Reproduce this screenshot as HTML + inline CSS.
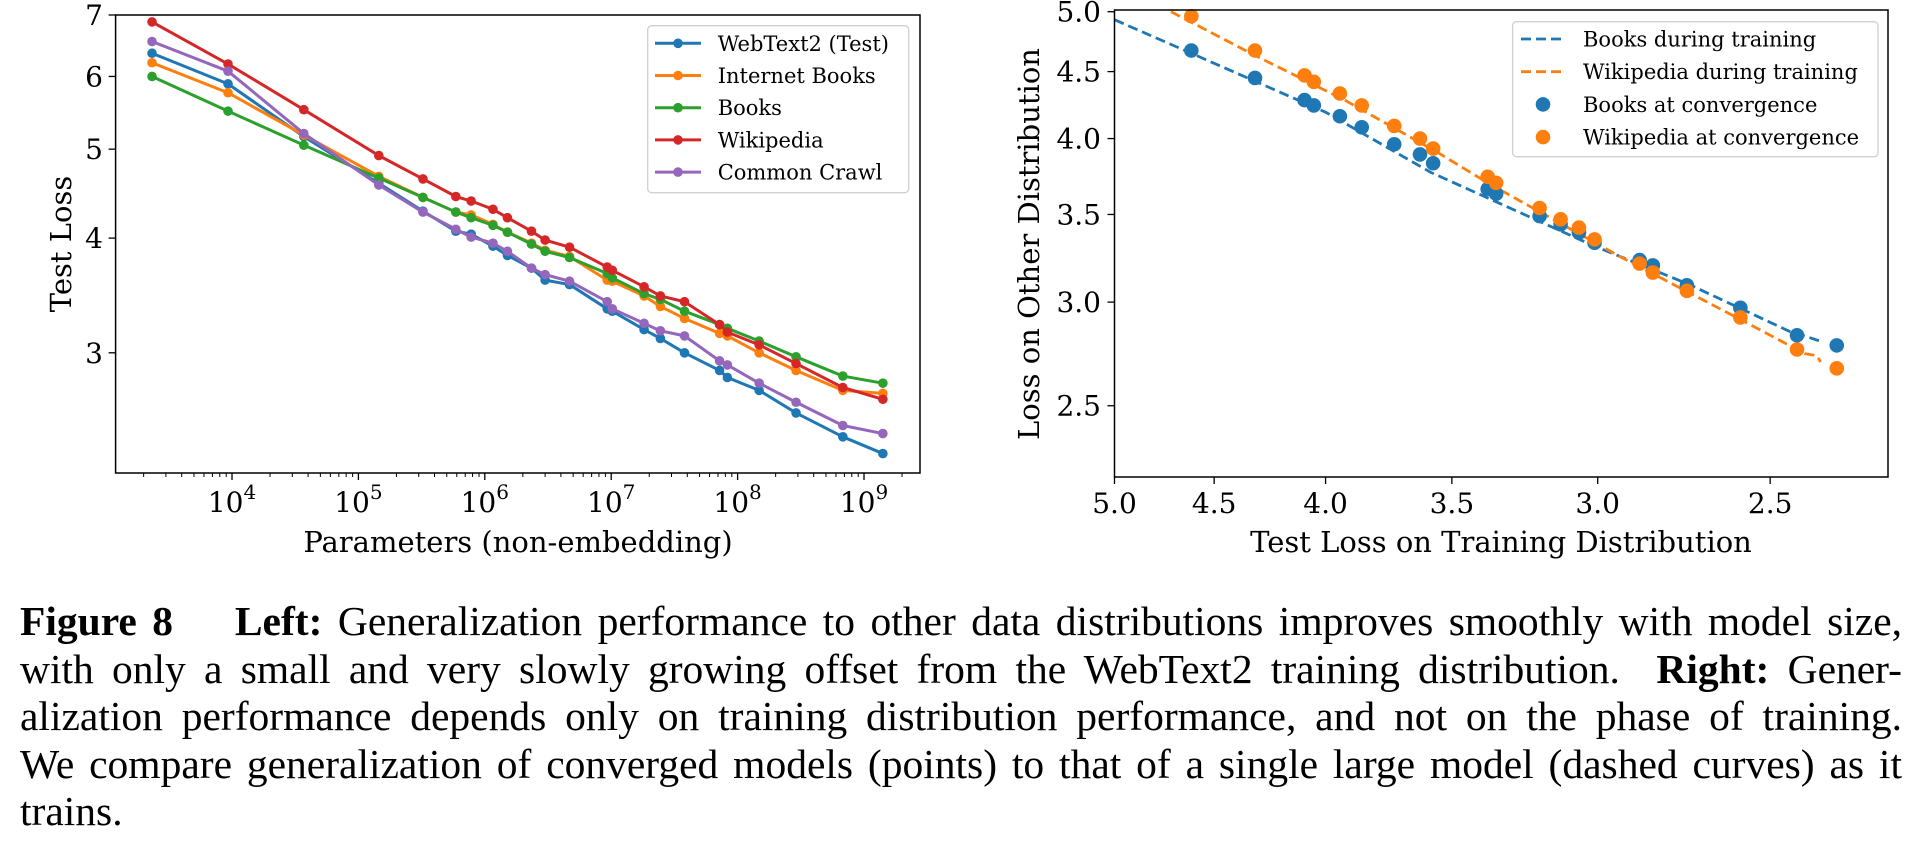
<!DOCTYPE html>
<html><head><meta charset="utf-8"><style>
html,body{margin:0;padding:0;background:#fff;width:1916px;height:844px;overflow:hidden}
svg{position:absolute;left:0;top:0}
.cap{position:absolute;left:20px;width:1882px;font-family:"Liberation Serif",serif;font-size:41.5px;line-height:47.5px;color:#000;white-space:nowrap}
.j{text-align:justify;text-align-last:justify}
</style></head><body>
<svg id="fig" width="1916" height="844" xmlns="http://www.w3.org/2000/svg" font-family="DejaVu Serif, serif"></svg>
<div class="cap" style="top:598px">
<div class="j"><b>Figure 8</b>&nbsp;&nbsp;&nbsp; <b>Left:</b> Generalization performance to other data distributions improves smoothly with model size,</div>
<div class="j">with only a small and very slowly growing offset from the WebText2 training distribution. &nbsp;<b>Right:</b> Gener-</div>
<div class="j">alization performance depends only on training distribution performance, and not on the phase of training.</div>
<div class="j">We compare generalization of converged models (points) to that of a single large model (dashed curves) as it</div>
<div>trains.</div>
</div>
<script>
// ---- Left chart data ----
const params = [2.33e3, 9.3e3, 3.7e4, 1.45e5, 3.24e5, 5.9e5, 7.8e5, 1.16e6, 1.51e6, 2.34e6, 3.0e6, 4.68e6, 9.3e6, 1.02e7, 1.82e7, 2.45e7, 3.8e7, 7.2e7, 8.3e7, 1.48e8, 2.9e8, 6.8e8, 1.41e9];
const webtext = [6.36,5.89,5.16,4.59,4.28,4.07,4.04,3.92,3.83,3.71,3.60,3.56,3.35,3.33,3.18,3.11,3.00,2.87,2.82,2.73,2.58,2.43,2.33];
const internetBooks = [6.21,5.76,5.18,4.67,4.43,4.27,4.24,4.14,4.06,3.95,3.88,3.82,3.60,3.59,3.46,3.37,3.27,3.15,3.13,3.00,2.87,2.73,2.71];
const books = [6.00,5.50,5.05,4.65,4.43,4.27,4.21,4.13,4.06,3.94,3.87,3.81,3.66,3.62,3.48,3.43,3.33,3.22,3.19,3.09,2.97,2.83,2.78];
const wikipedia = [6.88,6.19,5.52,4.92,4.64,4.44,4.39,4.30,4.21,4.07,3.98,3.91,3.72,3.69,3.54,3.46,3.41,3.22,3.16,3.06,2.92,2.75,2.67];
const commonCrawl = [6.55,6.08,5.20,4.57,4.27,4.09,4.01,3.95,3.87,3.71,3.65,3.59,3.41,3.35,3.23,3.17,3.13,2.94,2.91,2.78,2.65,2.50,2.45];
const leftNames = ["WebText2 (Test)","Internet Books","Books","Wikipedia","Common Crawl"];
const leftYTicks = [3,4,5,6,7];
const leftXTickExps = [4,5,6,7,8,9];
// ---- Right chart data ----
const trainLoss = [4.61,4.31,4.09,4.05,3.94,3.85,3.72,3.62,3.57,3.37,3.34,3.19,3.12,3.06,3.01,2.87,2.83,2.73,2.58,2.43,2.33];
const booksConv = [4.67,4.45,4.28,4.24,4.16,4.08,3.96,3.89,3.83,3.66,3.63,3.49,3.44,3.39,3.33,3.23,3.20,3.09,2.97,2.83,2.78];
const wikiConv = [4.96,4.67,4.47,4.42,4.33,4.24,4.09,4.00,3.93,3.74,3.70,3.54,3.47,3.42,3.35,3.21,3.16,3.06,2.92,2.76,2.67];
const booksTrainX = [5.0,4.6,4.0,3.58,3.01,2.73,2.45,2.40,2.37];
const booksTrainY = [4.93,4.64,4.19,3.77,3.31,3.10,2.85,2.82,2.80];
const wikiTrainX = [4.71,4.31,3.92,3.55,3.37,2.93,2.58,2.41,2.38,2.37];
const wikiTrainY = [5.0,4.63,4.28,3.90,3.70,3.25,2.91,2.74,2.73,2.70];
const rightTicks = [5.0,4.5,4.0,3.5,3.0,2.5];

const NS="http://www.w3.org/2000/svg";
const svg=document.getElementById('fig');
function mk(tag,attrs,parent){const e=document.createElementNS(NS,tag);for(const k in attrs)e.setAttribute(k,attrs[k]);(parent||svg).appendChild(e);return e;}
const L=Math.log10;
const C=["#1f77b4","#ff7f0e","#2ca02c","#d62728","#9467bd"];

const LA={x0:115.6,x1:920,y0:15,y1:473};
const xL=p=>232+(L(p)-4)*126.4;
const yL=v=>15+(L(7)-L(v))*918;
const RA={x0:1114.5,x1:1888,y0:10,y1:477};
const xR=v=>1114.5+(L(5)-L(v))*2178;
const yR=v=>11.7+(L(5)-L(v))*1309;

const gL=mk('g',{});


for(let e=3;e<=9;e++){for(let m=1;m<=9;m++){const p=m*Math.pow(10,e);const x=xL(p);if(x<LA.x0||x>LA.x1)continue;
 const t=mk('line',{x1:x,x2:x,y1:LA.y1,y2:LA.y1+(m===1?7:4),stroke:"#000","stroke-width":m===1?1.3:1},gL);
 }}
leftXTickExps.forEach(e=>{const t=mk('text',{x:xL(Math.pow(10,e)),y:512,"font-size":28,"text-anchor":"middle"},gL);
 
 t.innerHTML='10<tspan dy="-13" font-size="20">'+e+'</tspan>';});
leftYTicks.forEach(v=>{const y=yL(v);
 const t=mk('line',{x1:LA.x0-7,x2:LA.x0,y1:y,y2:y,stroke:"#000","stroke-width":1.3},gL);
 
 const s=mk('text',{x:103,y:y+10,"font-size":28,"text-anchor":"end"},gL);s.textContent=v;
 });
[webtext,internetBooks,books,wikipedia,commonCrawl].forEach((ser,i)=>{
 const pts=ser.map((v,j)=>xL(params[j])+','+yL(v)).join(' ');
 const pl=mk('polyline',{points:pts,fill:"none",stroke:C[i],"stroke-width":3,"stroke-linejoin":"round"},gL);
 
 
 ser.forEach((v,j)=>{const c=mk('circle',{cx:xL(params[j]),cy:yL(v),r:4.8,fill:C[i]},gL);
  });
});
const fL=mk('rect',{x:LA.x0,y:LA.y0,width:LA.x1-LA.x0,height:LA.y1-LA.y0,fill:"none",stroke:"#000","stroke-width":1.5},gL);

let t=mk('text',{x:518,y:552,"font-size":29,"text-anchor":"middle"},gL);t.textContent="Parameters (non-embedding)";

t=mk('text',{x:0,y:0,"font-size":29,"text-anchor":"middle",transform:"translate(71,244) rotate(-90)"},gL);t.textContent="Test Loss";

const lg=mk('g',{},gL);
mk('rect',{x:647.7,y:25.7,width:261,height:167,rx:4,fill:"#fff","fill-opacity":0.85,stroke:"#d0d0d0","stroke-width":1.3},lg);
leftNames.forEach((n,i)=>{const y=43.3+i*32.2;
 const e=mk('g',{},lg);
 mk('line',{x1:655,x2:701,y1:y,y2:y,stroke:C[i],"stroke-width":3},e);
 mk('circle',{cx:678,cy:y,r:4.8,fill:C[i]},e);
 const tx=mk('text',{x:717.7,y:y+7.5,"font-size":21},e);tx.textContent=n;});

const gR=mk('g',{});


rightTicks.forEach(v=>{const x=xR(v);
 let a=mk('line',{x1:x,x2:x,y1:RA.y1,y2:RA.y1+7,stroke:"#000","stroke-width":1.3},gR);
 
 let s=mk('text',{x:x,y:513,"font-size":28,"text-anchor":"middle"},gR);s.textContent=v.toFixed(1);
 
 const y=yR(v);
 a=mk('line',{x1:RA.x0-7,x2:RA.x0,y1:y,y2:y,stroke:"#000","stroke-width":1.3},gR);
 
 s=mk('text',{x:1101,y:y+10,"font-size":28,"text-anchor":"end"},gR);s.textContent=v.toFixed(1);
 });
const clip=mk('clipPath',{id:"rc"},gR);mk('rect',{x:RA.x0,y:RA.y0,width:RA.x1-RA.x0,height:RA.y1-RA.y0},clip);
const dash=(xs,ys,col,name)=>{const p=mk('polyline',{points:xs.map((x,i)=>xR(x)+','+yR(ys[i])).join(' '),fill:"none",stroke:col,"stroke-width":2.8,"stroke-dasharray":"10,5","clip-path":"url(#rc)"},gR);
 };
dash(booksTrainX,booksTrainY,C[0],'books-training-curve');
dash(wikiTrainX,wikiTrainY,C[1],'wikipedia-training-curve');
booksConv.forEach((v,i)=>{const c=mk('circle',{cx:xR(trainLoss[i]),cy:yR(v),r:7.3,fill:C[0]},gR);
 });
wikiConv.forEach((v,i)=>{const c=mk('circle',{cx:xR(trainLoss[i]),cy:yR(v),r:7.3,fill:C[1]},gR);
 });
const fR=mk('rect',{x:RA.x0,y:RA.y0,width:RA.x1-RA.x0,height:RA.y1-RA.y0,fill:"none",stroke:"#000","stroke-width":1.5},gR);

t=mk('text',{x:1501,y:552,"font-size":29,"text-anchor":"middle"},gR);t.textContent="Test Loss on Training Distribution";

t=mk('text',{x:0,y:0,"font-size":29,"text-anchor":"middle",transform:"translate(1039,244) rotate(-90)"},gR);t.textContent="Loss on Other Distribution";

const rg=mk('g',{},gR);
mk('rect',{x:1512.6,y:21.7,width:365.4,height:135,rx:4,fill:"#fff","fill-opacity":0.85,stroke:"#d0d0d0","stroke-width":1.3},rg);
const rNames=["Books during training","Wikipedia during training","Books at convergence","Wikipedia at convergence"];
rNames.forEach((n,i)=>{const y=39+i*32.7;const col=C[i%2];
 const e=mk('g',{},rg);
 if(i<2)mk('line',{x1:1521,x2:1566,y1:y,y2:y,stroke:col,"stroke-width":2.8,"stroke-dasharray":"10,5"},e);
 else mk('circle',{cx:1543,cy:y,r:7.3,fill:col},e);
 const tx=mk('text',{x:1583,y:y+7.5,"font-size":21},e);tx.textContent=n;});
</script>
</body></html>
